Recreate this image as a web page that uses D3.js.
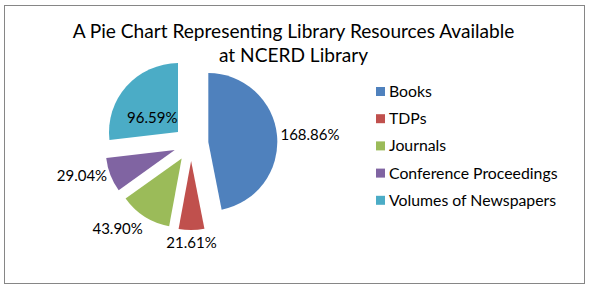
<!DOCTYPE html>
<html><head><meta charset="utf-8">
<script src="https://cdn.jsdelivr.net/npm/d3@7"></script>
<style>
html,body{margin:0;padding:0;background:#fff;}
svg{display:block;}
text{font-family:Lato,"Open Sans",sans-serif;fill:#000;}
</style></head>
<body>
<svg id="c" width="589" height="287"></svg>
<script>
const titleLines = ["A Pie Chart Representing Library Resources Available", "at NCERD Library"];
const categories = ["Books", "TDPs", "Journals", "Conference Proceedings", "Volumes of Newspapers"];
const values = [168.86, 21.61, 43.90, 29.04, 96.59];
const labels = ["168.86%", "21.61%", "43.90%", "29.04%", "96.59%"];
const labelMode = ["outside", "outside", "outside", "outside", "inside"];
const colors = ["#4F81BD", "#C0504D", "#9BBB59", "#8064A2", "#4BACC6"];

const svg = d3.select("#c");

// frame
svg.append("rect").attr("x", 4.5).attr("y", 5.5).attr("width", 580).attr("height", 278)
  .attr("fill", "#fff").attr("stroke", "#868686").attr("stroke-width", 1);

// title
const title = svg.append("g").attr("class", "title");
titleLines.forEach((t, i) => {
  title.append("text").attr("x", 293.5).attr("y", 38 + i * 24)
    .attr("text-anchor", "middle").attr("font-size", 20).text(t);
});

// pie
const cx = 191, cy = 143.7, R = 69, explode = 17.4;
const pie = d3.pie().sort(null).value(d => d).startAngle(0).endAngle(2 * Math.PI);
const arcs = pie(values);
const arc = d3.arc().innerRadius(0).outerRadius(R);
const g = svg.append("g").attr("transform", `translate(${cx},${cy})`);

arcs.forEach((a, i) => {
  const mid = (a.startAngle + a.endAngle) / 2;
  const dx = Math.sin(mid), dy = -Math.cos(mid);
  g.append("path").attr("d", arc(a)).attr("fill", colors[i])
    .attr("transform", `translate(${explode * dx},${explode * dy})`);
});

// data labels
const lblFs = 15, lblH = 18, gap = 3.5;
const lblG = g.append("g").attr("class", "labels");
arcs.forEach((a, i) => {
  const mid = (a.startAngle + a.endAngle) / 2;
  const dx = Math.sin(mid), dy = -Math.cos(mid);
  const ax = explode * dx, ay = explode * dy;
  const t = lblG.append("text").attr("font-size", lblFs).text(labels[i]);
  if (labelMode[i] === "inside") {
    const c = arc.centroid(a);
    t.attr("x", ax + c[0]).attr("y", ay + c[1] + lblH / 2).attr("text-anchor", "middle").attr("dy", "0.35em");
  } else {
    const px = ax + (R + gap) * dx, py = ay + (R + gap) * dy;
    let anchor = "middle";
    if (dx > 0.3) anchor = "start"; else if (dx < -0.3) anchor = "end";
    let ty = py;
    if (Math.abs(dy) > 0.5) ty = py + Math.sign(dy) * lblH / 2;
    t.attr("x", px).attr("y", ty).attr("text-anchor", anchor).attr("dy", "0.35em");
  }
});

// legend
const lg = svg.append("g").attr("class", "legend").attr("transform", "translate(376,87)");
const step = 27.2;
categories.forEach((c, i) => {
  const row = lg.append("g").attr("transform", `translate(0,${i * step})`);
  row.append("rect").attr("width", 9).attr("height", 9).attr("fill", colors[i]);
  row.append("text").attr("x", 13).attr("y", 10).attr("font-size", 15.5).text(c);
});

// adjust widths to emulate Calibri metrics
function condense(sel, k) {
  sel.each(function () {
    const n = this.getComputedTextLength();
    d3.select(this).attr("textLength", n * k).attr("lengthAdjust", "spacingAndGlyphs");
  });
}
condense(svg.selectAll(".title text"), 0.955);
condense(svg.selectAll(".labels text"), 1.0);
condense(svg.selectAll(".legend text"), 1.02);
</script>
</body></html>
